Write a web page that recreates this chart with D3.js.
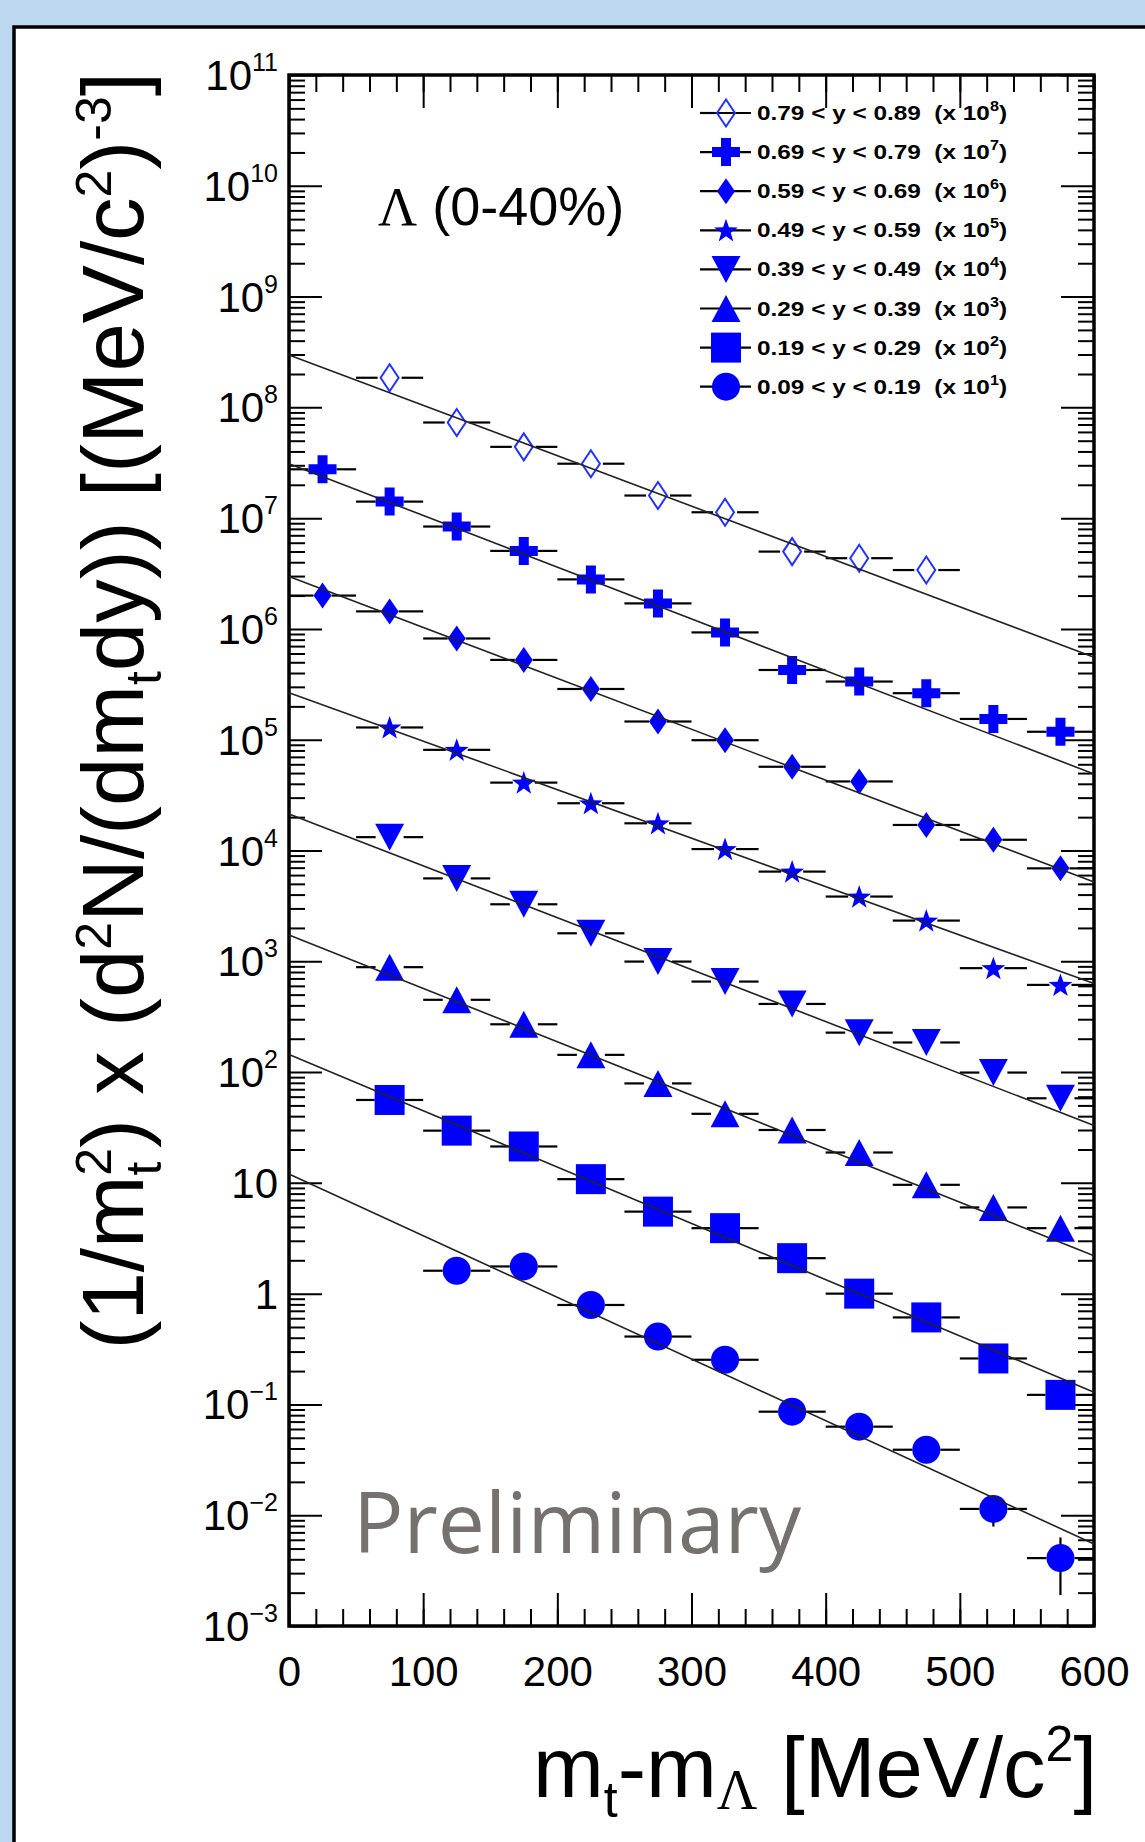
<!DOCTYPE html>
<html>
<head>
<meta charset="utf-8">
<script src="https://cdn.jsdelivr.net/npm/d3@7"></script>
<style>
  html, body { margin: 0; padding: 0; background: #bdd7ee; }
  svg { display: block; }
  text { font-family: "Liberation Sans", Arial, Helvetica, sans-serif; }
</style>
</head>
<body>
<svg id="chart" width="1145" height="1842"></svg>
<script>
// bin centres in mt - m_Lambda (MeV/c^2), bins are 50 wide
const xCenters = [25, 75, 125, 175, 225, 275, 325, 375, 425, 475, 525, 575];
const xHalfWidth = 25;

// spectra as plotted (already multiplied by the scale factor), null = no point
const yield079 = [null, 1.85e8, 7.3e7, 4.4e7, 3.1e7, 1.6e7, 1.13e7, 4.99e6, 4.35e6, 3.4e6, null, null];
const yield069 = [2.76e7, 1.41e7, 8.4e6, 5.06e6, 2.8e6, 1.7e6, 9.3e5, 4.26e5, 3.35e5, 2.63e5, 1.54e5, 1.18e5];
const yield059 = [2.0e6, 1.44e6, 8.2e5, 5.25e5, 2.87e5, 1.46e5, 9.9e4, 5.7e4, 4.2e4, 1.7e4, 1.25e4, 6.9e3];
const yield049 = [null, 1.29e5, 8.1e4, 4.1e4, 2.67e4, 1.76e4, 1.03e4, 6.45e3, 3.84e3, 2.33e3, 867, 612];
const yield039 = [null, 1.32e4, 5.6e3, 3.27e3, 1.79e3, 994, 656, 412, 227, 185, 99, 58];
const yield029 = [null, 885, 449, 270, 143, 79, 42, 30, 18.8, 9.6, 6.0, 3.9];
const yield019 = [null, 56, 29.6, 21.3, 10.8, 5.5, 3.9, 2.09, 1.0, 0.61, 0.26, 0.122];
const yield009 = [null, null, 1.61, 1.76, 0.79, 0.41, 0.253, 0.086, 0.063, 0.039, 0.0114, 0.0041];
// vertical errors only visible on the last points of the lowest bin
const yErr009 = [null, null, 0, 0, 0, 0, 0, 0, 0, 0, 0.0035, 0.0022];

// exponential fits: value at mt-m = 0 and at 600
const fitRange = [0, 600];
const fitAt0 = [2.97e8, 3.1e7, 2.97e6, 2.66e5, 2.14e4, 1.73e3, 144, 12];
const fitAt600 = [5.55e5, 4.9e4, 5.2e3, 630, 33, 2.2, 0.129, 0.0055];

const rapidityBins = ["0.79 < y < 0.89", "0.69 < y < 0.79", "0.59 < y < 0.69", "0.49 < y < 0.59",
  "0.39 < y < 0.49", "0.29 < y < 0.39", "0.19 < y < 0.29", "0.09 < y < 0.19"];
const scaleExponents = [8, 7, 6, 5, 4, 3, 2, 1];
const markerTypes = ["openDiamond", "cross", "diamond", "star", "triangleDown", "triangleUp", "square", "circle"];
const seriesValues = [yield079, yield069, yield059, yield049, yield039, yield029, yield019, yield009];
const seriesErrors = [null, null, null, null, null, null, null, yErr009];

// axis ticks
const xMajorTicks = [0, 100, 200, 300, 400, 500, 600];
const xMinorTicks = d3.range(0, 601, 20);
const yDecades = [-3, -2, -1, 0, 1, 2, 3, 4, 5, 6, 7, 8, 9, 10, 11];

const blue = "#0000ff";
const svg = d3.select("#chart");

// white slide panel
svg.append("rect")
  .attr("x", 14).attr("y", 27).attr("width", 1200).attr("height", 1900)
  .attr("fill", "#fff").attr("stroke", "#000").attr("stroke-width", 3.5);

const plot = { left: 289, right: 1094, top: 75, bottom: 1626 };

const x = d3.scaleLinear().domain([0, 600]).range([plot.left, plot.right]);
const y = d3.scaleLog().domain([1e-3, 1e11]).range([plot.bottom, plot.top]);

// ---- ticks (ROOT style, inward on all four sides)
function ticks(axis, pos, values, size) {
  svg.append("g")
    .attr("transform", pos)
    .call(axis.tickValues(values).tickSize(size).tickSizeOuter(0).tickFormat(""))
    .call(g => g.select(".domain").remove())
    .call(g => g.selectAll("line").attr("stroke", "#000").attr("stroke-width", 2));
}
const yMinor = [];
yDecades.slice(0, -1).forEach(k => { for (let m = 2; m <= 9; m++) yMinor.push(m * Math.pow(10, k)); });
const yMajor = yDecades.map(k => Math.pow(10, k));

ticks(d3.axisBottom(x), `translate(0,${plot.bottom})`, xMinorTicks, -17);
ticks(d3.axisBottom(x), `translate(0,${plot.bottom})`, xMajorTicks, -33);
ticks(d3.axisTop(x), `translate(0,${plot.top})`, xMinorTicks, -17);
ticks(d3.axisTop(x), `translate(0,${plot.top})`, xMajorTicks, -33);
ticks(d3.axisLeft(y), `translate(${plot.left},0)`, yMinor, -16);
ticks(d3.axisLeft(y), `translate(${plot.left},0)`, yMajor, -33);
ticks(d3.axisRight(y), `translate(${plot.right},0)`, yMinor, -16);
ticks(d3.axisRight(y), `translate(${plot.right},0)`, yMajor, -33);

// frame
svg.append("rect")
  .attr("x", plot.left).attr("y", plot.top)
  .attr("width", plot.right - plot.left).attr("height", plot.bottom - plot.top)
  .attr("fill", "none").attr("stroke", "#000").attr("stroke-width", 3.5);

// x labels
svg.append("g")
  .attr("transform", `translate(0,${plot.bottom})`)
  .call(d3.axisBottom(x).tickValues(xMajorTicks).tickSize(0).tickPadding(30))
  .call(g => g.select(".domain").remove())
  .call(g => g.selectAll("text").attr("font-size", 42).attr("fill", "#000")
    .style("font-family", "Liberation Sans, Arial, sans-serif"));

// y labels with exponents
yDecades.forEach(k => {
  const t = svg.append("text")
    .attr("x", 278).attr("y", y(Math.pow(10, k)) + 15)
    .attr("text-anchor", "end").attr("font-size", 42);
  if (k === 0) { t.text("1"); return; }
  if (k === 1) { t.text("10"); return; }
  t.append("tspan").text("10");
  t.append("tspan").attr("font-size", 25).attr("dy", -19)
    .text(k < 0 ? "\u2212" + (-k) : String(k));
});

// ---- markers
function markerPath(type) {
  switch (type) {
    case "circle": return d3.symbol(d3.symbolCircle, Math.PI * 14 * 14)();
    case "square": return "M-15,-15H15V15H-15Z";
    case "triangleUp": return "M0,-13.5L14.5,13.5L-14.5,13.5Z";
    case "triangleDown": return "M0,13.5L14.5,-13.5L-14.5,-13.5Z";
    case "diamond": return "M0,-13L9,0L0,13L-9,0Z";
    case "openDiamond": return "M0,-13.5L9,0L0,13.5L-9,0Z";
    case "cross": return "M-5,-14H5V-5H14V5H5V14H-5V5H-14V-5H-5Z";
    case "star": {
      const pts = d3.range(10).map(i => {
        const r = i % 2 ? 5 : 12.5;
        const a = -Math.PI / 2 + i * Math.PI / 5;
        return [r * Math.cos(a), r * Math.sin(a) + 1];
      });
      return "M" + pts.join("L") + "Z";
    }
  }
}
const markerHalf = { circle: 14, square: 15, triangleUp: 14, triangleDown: 14, diamond: 9, openDiamond: 12, cross: 14, star: 11 };

function drawMarker(g, type, cx, cy) {
  const open = type === "openDiamond";
  g.append("path")
    .attr("d", markerPath(type))
    .attr("transform", `translate(${cx},${cy})`)
    .attr("fill", open ? "none" : blue)
    .attr("stroke", open ? "#2233ff" : "none")
    .attr("stroke-width", open ? 2 : 0);
}

const dataG = svg.append("g");
seriesValues.forEach((vals, s) => {
  const type = markerTypes[s];
  const half = markerHalf[type];
  const errs = seriesErrors[s];
  const pts = xCenters.map((xc, i) => ({ xc, v: vals[i], e: errs ? errs[i] : 0 })).filter(d => d.v != null);
  pts.forEach(d => {
    const cx = x(d.xc), cy = y(d.v);
    const xl = x(d.xc - xHalfWidth), xr = x(d.xc + xHalfWidth);
    dataG.append("line").attr("x1", xl).attr("x2", cx - half).attr("y1", cy).attr("y2", cy)
      .attr("stroke", "#000").attr("stroke-width", 2.2);
    dataG.append("line").attr("x1", cx + half).attr("x2", xr).attr("y1", cy).attr("y2", cy)
      .attr("stroke", "#000").attr("stroke-width", 2.2);
    if (d.e) {
      dataG.append("line").attr("x1", cx).attr("x2", cx)
        .attr("y1", y(d.v + d.e)).attr("y2", y(d.v - d.e))
        .attr("stroke", "#000").attr("stroke-width", 2.2);
    }
    drawMarker(dataG, type, cx, cy);
  });
});

// fit lines on top
const fitLine = d3.line().x(d => x(d[0])).y(d => y(d[1]));
fitAt0.forEach((v0, s) => {
  svg.append("path")
    .attr("d", fitLine([[fitRange[0], v0], [fitRange[1], fitAt600[s]]]))
    .attr("fill", "none").attr("stroke", "#222").attr("stroke-width", 1.6);
});

// ---- legend
const legend = svg.append("g");
rapidityBins.forEach((lab, i) => {
  const ly = 113 + i * 39.1;
  legend.append("line").attr("x1", 700).attr("x2", 751).attr("y1", ly).attr("y2", ly)
    .attr("stroke", "#000").attr("stroke-width", 2.2);
  drawMarker(legend, markerTypes[i], 726, ly);
  if (markerTypes[i] === "openDiamond") {
    legend.append("line").attr("x1", 700).attr("x2", 714).attr("y1", ly).attr("y2", ly)
      .attr("stroke", "#000").attr("stroke-width", 2.2);
  }
  const t = legend.append("text")
    .attr("transform", `translate(757,${ly + 7}) scale(1.16,1)`)
    .attr("font-size", 21).attr("font-weight", "bold")
    .style("white-space", "pre");
  t.append("tspan").text(lab + "  (x 10");
  t.append("tspan").attr("font-size", 14).attr("dy", -9).text(scaleExponents[i]);
  t.append("tspan").attr("dy", 9).text(")");
});

// ---- annotations
const lam = svg.append("text").attr("x", 378).attr("y", 225).attr("font-size", 54);
lam.append("tspan").style("font-family", "Liberation Serif, serif").text("\u039B");
lam.append("tspan").text(" (0-40%)");

svg.append("text")
  .attr("x", 353).attr("y", 1553)
  .attr("font-size", 84).attr("fill", "#767171")
  .style("font-family", "Open Sans, sans-serif")
  .text("Preliminary");

// x title
const xt = svg.append("text")
  .attr("x", 1097).attr("y", 1797).attr("text-anchor", "end").attr("font-size", 85);
xt.append("tspan").text("m");
xt.append("tspan").attr("font-size", 50).attr("dy", 20).text("t");
xt.append("tspan").attr("dy", -20).text("-m");
xt.append("tspan").attr("font-size", 56).attr("dy", 12).style("font-family", "Liberation Serif, serif").text("\u039B");
xt.append("tspan").attr("dy", -12).text(" [MeV/c");
xt.append("tspan").attr("font-size", 50).attr("dy", -36).text("2");
xt.append("tspan").attr("dy", 36).text("]");

// y title
const yt = svg.append("text")
  .attr("transform", "translate(143,72) rotate(-90)")
  .attr("text-anchor", "end").attr("font-size", 87);
yt.append("tspan").text("(1/m");
yt.append("tspan").attr("font-size", 50).attr("dy", 18).text("t");
yt.append("tspan").attr("font-size", 50).attr("dx", -14).attr("dy", -50).text("2");
yt.append("tspan").attr("dy", 32).text(") x (d");
yt.append("tspan").attr("font-size", 50).attr("dy", -32).text("2");
yt.append("tspan").attr("dy", 32).text("N/(dm");
yt.append("tspan").attr("font-size", 50).attr("dy", 18).text("t");
yt.append("tspan").attr("dy", -18).text("dy)) [(MeV/c");
yt.append("tspan").attr("font-size", 50).attr("dy", -32).text("2");
yt.append("tspan").attr("dy", 32).text(")");
yt.append("tspan").attr("font-size", 50).attr("dy", -32).text("-3");
yt.append("tspan").attr("dy", 32).text("]");
</script>
</body>
</html>
